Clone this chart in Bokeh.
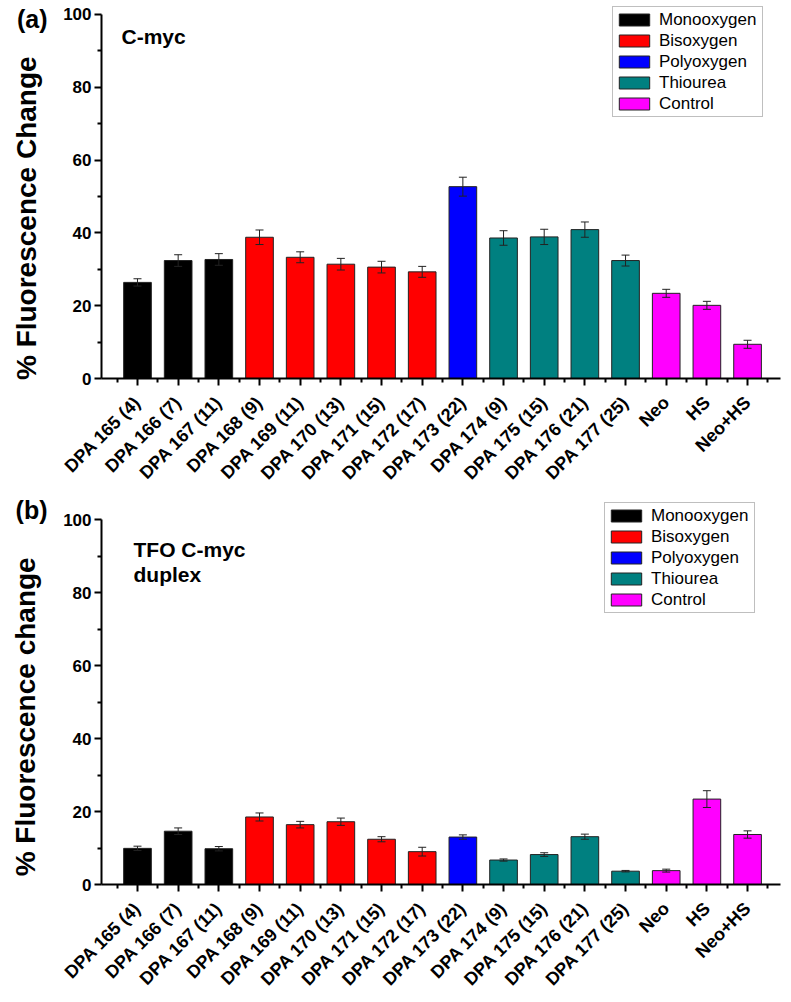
from bokeh.plotting import figure
from bokeh.models import (ColumnDataSource, FixedTicker, Whisker, Legend, LegendItem,
                          Label, Range1d, TeeHead, LinearAxis)
from bokeh.layouts import column
from bokeh.embed import file_html
from bokeh.resources import INLINE
import math

# ---------------- data ----------------
categories = ["DPA 165 (4)", "DPA 166 (7)", "DPA 167 (11)", "DPA 168 (9)", "DPA 169 (11)",
              "DPA 170 (13)", "DPA 171 (15)", "DPA 172 (17)", "DPA 173 (22)", "DPA 174 (9)",
              "DPA 175 (15)", "DPA 176 (21)", "DPA 177 (25)", "Neo", "HS", "Neo+HS"]
groups = (["Monooxygen"] * 3 + ["Bisoxygen"] * 5 + ["Polyoxygen"] +
          ["Thiourea"] * 4 + ["Control"] * 3)
group_names = ["Monooxygen", "Bisoxygen", "Polyoxygen", "Thiourea", "Control"]
group_colors = ["#000000", "#FF0000", "#0000FF", "#008080", "#FF00FF"]

cmyc_values = [26.4, 32.4, 32.7, 38.8, 33.3, 31.4, 30.6, 29.3, 52.7, 38.6, 38.9, 40.9, 32.4, 23.4, 20.1, 9.4]
cmyc_errors = [1.0, 1.6, 1.6, 2.0, 1.5, 1.6, 1.6, 1.5, 2.6, 2.0, 2.1, 2.1, 1.5, 1.1, 1.1, 1.1]

tfo_values = [9.9, 14.6, 9.8, 18.5, 16.4, 17.2, 12.4, 9.0, 13.0, 6.7, 8.2, 13.1, 3.65, 3.8, 23.4, 13.7]
tfo_errors = [0.6, 0.9, 0.6, 1.1, 0.9, 1.0, 0.7, 1.2, 0.6, 0.3, 0.5, 0.7, 0.2, 0.4, 2.3, 1.0]

y_ticks = [0, 20, 40, 60, 80, 100]
y_minor = [10, 30, 50, 70, 90]

FONT = "Liberation Sans"
NBSP = "\u00a0"


def make_panel(values, errors, ylabel, letter, letter_pos, notes,
               border_top, frame_height, y_end, legend_loc):
    n = len(categories)
    xs = list(range(n))
    p = figure(frame_width=679, frame_height=frame_height,
               min_border_left=101, min_border_right=3,
               min_border_top=border_top, min_border_bottom=116,
               x_range=Range1d(-0.885, n - 1 + 0.81), y_range=Range1d(0, y_end),
               output_backend="svg", toolbar_location=None)
    p.outline_line_color = None
    p.grid.visible = False
    p.background_fill_color = "white"
    p.border_fill_color = "white"

    items = []
    for gname, gcol in zip(group_names, group_colors):
        idx = [i for i in xs if groups[i] == gname]
        src = ColumnDataSource(dict(x=[xs[i] for i in idx], top=[values[i] for i in idx]))
        r = p.vbar(x="x", top="top", width=0.68, bottom=0, source=src,
                   fill_color=gcol, line_color="#222222", line_width=1)
        items.append(LegendItem(label=gname, renderers=[r]))

    esrc = ColumnDataSource(dict(x=xs,
                                 upper=[v + e for v, e in zip(values, errors)],
                                 lower=[v - e for v, e in zip(values, errors)]))
    w = Whisker(base="x", upper="upper", lower="lower", source=esrc,
                line_color="#222222", line_width=1, level="overlay",
                upper_head=TeeHead(size=8, line_color="#222222", line_width=1),
                lower_head=TeeHead(size=8, line_color="#222222", line_width=1))
    p.add_layout(w)

    # x axis
    xa = p.xaxis[0]
    xa.ticker = FixedTicker(ticks=xs, minor_ticks=[i - 0.5 for i in range(n + 1)])
    xa.major_label_overrides = {i: c for i, c in enumerate(categories)}
    xa.major_label_orientation = math.pi / 4
    xa.major_label_text_font = FONT
    xa.major_label_text_font_style = "bold"
    xa.major_label_text_font_size = "18px"
    xa.major_label_text_color = "black"
    xa.major_label_standoff = 14

    # main y axis
    ya = p.yaxis[0]
    ya.ticker = FixedTicker(ticks=y_ticks, minor_ticks=y_minor)
    ya.bounds = (0, 100)
    ya.major_label_text_font = FONT
    ya.major_label_text_font_style = "bold"
    ya.major_label_text_font_size = "17px"
    ya.major_label_text_color = "black"
    ya.major_label_standoff = 3

    for ax in (xa, ya):
        ax.axis_line_width = 2
        ax.axis_line_color = "black"
        ax.major_tick_line_width = 2
        ax.minor_tick_line_width = 2
        ax.major_tick_line_color = "black"
        ax.minor_tick_line_color = "black"
        ax.major_tick_in = 0
        ax.major_tick_out = 7
        ax.minor_tick_in = 0
        ax.minor_tick_out = 4

    # outer left axis: carries the panel letter and the axis title
    ex = LinearAxis(ticker=FixedTicker(ticks=[letter_pos], minor_ticks=[]),
                    major_label_overrides={letter_pos: letter},
                    axis_line_color=None, major_tick_line_color=None,
                    minor_tick_line_color=None, major_tick_out=0, minor_tick_out=0,
                    major_tick_in=0, minor_tick_in=0,
                    major_label_standoff=13,
                    major_label_text_font=FONT, major_label_text_font_style="bold",
                    major_label_text_font_size="25px", major_label_text_color="black",
                    axis_label=ylabel, axis_label_standoff=-28,
                    axis_label_text_font=FONT, axis_label_text_font_style="bold",
                    axis_label_text_font_size="28px", axis_label_text_color="black")
    p.add_layout(ex, "left")

    leg = Legend(items=items, location=legend_loc,
                 label_text_font=FONT, label_text_font_size="17px",
                 label_text_color="black",
                 glyph_width=38, glyph_height=15, label_height=21, label_width=101,
                 label_standoff=6, spacing=0, padding=2, margin=0,
                 border_line_color="#808080", border_line_width=1.5,
                 background_fill_color="white", background_fill_alpha=1.0)
    p.add_layout(leg, "center")

    for txt, nx, ny in notes:
        p.add_layout(Label(x=nx, y=ny, x_units="screen", y_units="screen",
                           text=txt, text_font=FONT, text_font_style="bold",
                           text_font_size="21px", text_baseline="top", text_color="black"))
    return p


p1 = make_panel(cmyc_values, cmyc_errors, "% Fluorescence Change" + NBSP * 7, "(a)", 98.8,
                [("C-myc", 20, 354)], border_top=3, frame_height=375, y_end=103.02,
                legend_loc=(511, 261))
p2 = make_panel(tfo_values, tfo_errors, "% Fluorescence change" + NBSP * 6, "(b)", 102.7,
                [("TFO C-myc", 32, 347), ("duplex", 32, 322)], border_top=8,
                frame_height=382, y_end=104.66, legend_loc=(503, 271))

layout = column(p1, p2, spacing=0)
open("out.html", "w").write(file_html(layout, INLINE))
